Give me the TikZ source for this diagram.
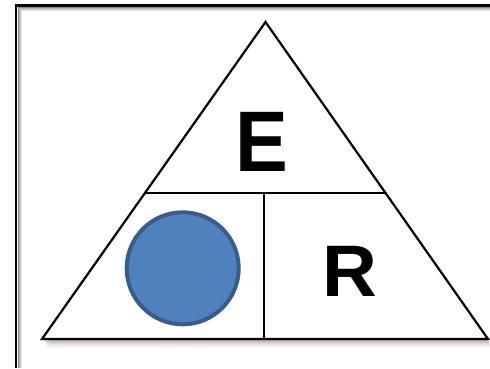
\documentclass[tikz,border=0pt]{standalone}
\usepackage{fontspec}
\setmainfont{Liberation Sans}
\definecolor{circfill}{HTML}{4F81BD}
\definecolor{circline}{HTML}{385D8A}
\definecolor{shadowc}{rgb}{0.35,0.22,0.22}
\begin{document}
\begin{tikzpicture}[x=1pt,y=-1pt,
  edge/.style={draw=black,line width=2.2pt,line join=miter},
  letter/.style={inner sep=0pt,anchor=base,font=\bfseries\fontsize{86}{86}\selectfont}]
\useasboundingbox (0,0) rectangle (490,368);
\fill[white] (0,0) rectangle (490,368);
% frame with inner shadow
\foreach \d/\g in {5/12,4.2/20,3.4/30,2.6/45}{
  \draw[black!\g,line width=0.9pt] (16+\d,368) -- (16+\d,5+\d) -- (490,5+\d);
}
\draw[line width=2.6pt,black] (16,368) -- (16,5.5) -- (490,5.5);
% triangle corners
\coordinate (A) at (265.5,22);
\coordinate (B) at (42,339);
\coordinate (C) at (488,339);
\coordinate (L) at (144.9,193);
\coordinate (R) at (385.5,193);
\coordinate (M) at (264,193);
\coordinate (N) at (264,339);
% drop shadow
\foreach \s/\o in {9/0.05,7/0.07,5/0.09,3.5/0.12,2/0.15}{
  \fill[shadowc,opacity=\o] ([shift={(\s*0.5,\s)}]A) -- ([shift={(\s*0.5,\s)}]B) -- ([shift={(\s*0.5,\s)}]C) -- cycle;
}
\fill[white] (A) -- (B) -- (C) -- cycle;
\draw[edge] (A) -- (B) -- (C) -- cycle;
\draw[edge,line width=1.8pt] (L) -- (R);
\draw[edge,line width=1.8pt] (M) -- (N);
% circle
\node[circle,draw=circline,fill=circfill,line width=4pt,minimum size=112pt,inner sep=0pt] (circ) at (182.7,268.3) {};
% letters
\node[letter,xscale=0.92] (E) at (261.5,171) {E};
\node[letter,font=\bfseries\fontsize{73}{73}\selectfont,xscale=1.04] (Rl) at (349.5,296.5) {R};
\end{tikzpicture}
\end{document}
